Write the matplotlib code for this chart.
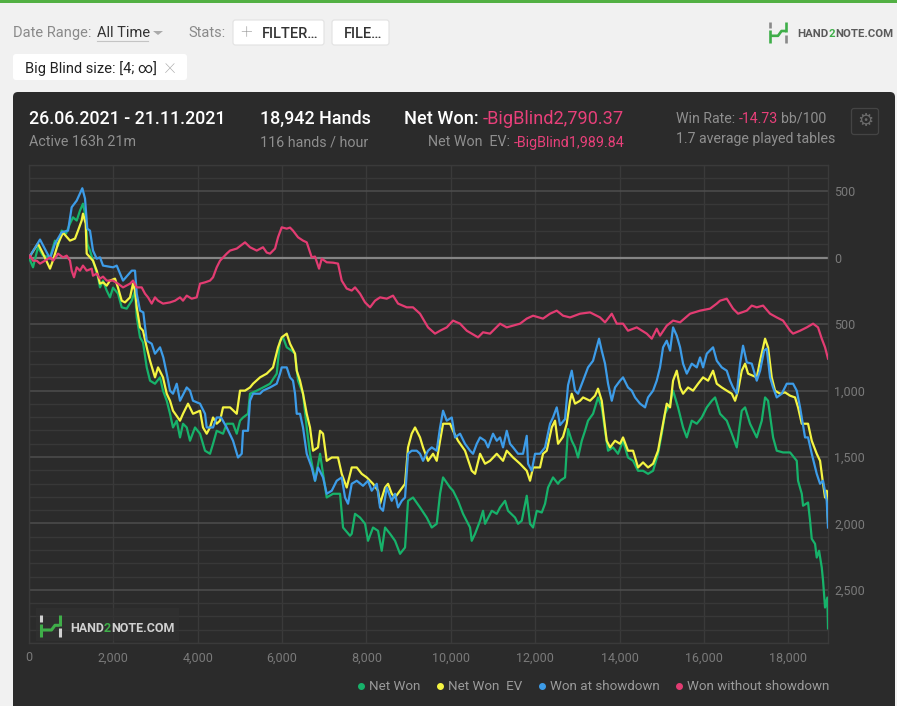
import matplotlib
matplotlib.use("Agg")
import matplotlib.pyplot as plt
from matplotlib.patches import FancyBboxPatch, Rectangle, Polygon
from matplotlib.lines import Line2D
import matplotlib.ticker as mticker

plt.rcParams['font.family'] = ['Roboto', 'DejaVu Sans']

# ---------------- data (hands, cumulative big blinds) ----------------
series_names = ["Net Won", "Net Won  EV", "Won at showdown", "Won without showdown"]
series_colors = ["#17b26a", "#f4f442", "#3d9ce8", "#e23c72"]

net_hands = [0, 95, 213, 332, 498, 616, 688, 775, 877, 972, 1043, 1131, 1209, 1280, 1344, 1382, 1446, 1565, 1636, 1683,
             1755, 1842, 1920, 1992, 2110, 2198, 2316, 2435, 2513, 2554, 2632, 2703, 2791, 2869, 2987, 3106, 3177, 3265,
             3343, 3414, 3502, 3580, 3651, 3739, 3817, 3936, 4054, 4173, 4291, 4363, 4450, 4600, 4687, 4837, 4925, 5003,
             5074, 5192, 5240, 5399, 5548, 5714, 5873, 5951, 6022, 6110, 6229, 6307, 6378, 6496, 6584, 6662, 6781, 6900,
             6971, 7058, 7208, 7374, 7445, 7611, 7651, 7729, 7848, 7967, 8037, 8156, 8275, 8362, 8441, 8559, 8678, 8796,
             8915, 8986, 9104, 9270, 9429, 9548, 9666, 9745, 9816, 9982, 10053, 10171, 10290, 10456, 10496, 10575, 10693,
             10764, 10812, 10971, 11089, 11167, 11286, 11357, 11523, 11594, 11682, 11800, 11878, 11950, 12037, 12156,
             12234, 12305, 12423, 12542, 12590, 12708, 12779, 12867, 12945, 13016, 13104, 13182, 13253, 13372, 13490,
             13578, 13656, 13728, 13846, 13964, 14083, 14201, 14320, 14439, 14557, 14676, 14795, 14913, 15001, 15079,
             15198, 15269, 15387, 15506, 15594, 15712, 15831, 15949, 16068, 16187, 16265, 16383, 16542, 16661, 16779,
             16897, 16976, 17094, 17253, 17372, 17450, 17521, 17640, 17727, 17877, 18043, 18201, 18232, 18320, 18351,
             18469, 18517, 18557, 18635, 18675, 18730, 18794, 18825, 18872, 18926, 18942]
net_won = [0, -73, 78, 15, 2, 128, 90, 203, 180, 256, 303, 279, 354, 406, 303, 105, 53, -73, -148, -224,
           -173, -248, -299, -226, -271, -374, -384, -324, -248, -450, -600, -638, -826, -926, -949, -901, -1001, -1077,
           -1175, -1278, -1227, -1353, -1250, -1278, -1378, -1278, -1325, -1453, -1476, -1401, -1303, -1325, -1250,
           -1250, -1325, -1227, -1203, -1175, -1024, -1001, -977, -949, -873, -625, -600, -675, -700, -723, -926, -1024,
           -1278, -1476, -1679, -1476, -1627, -1805, -1777, -1777, -2031, -2093, -2078, -1928, -1956, -2003, -2131,
           -2031, -2056, -2206, -2031, -2078, -2131, -2229, -2181, -1830, -1805, -1880, -1956, -2031, -2003, -1777,
           -1654, -1730, -1754, -1830, -1928, -2031, -2131, -2078, -1980, -1905, -2003, -1905, -1928, -1880, -1830,
           -1905, -1956, -2003, -1980, -1792, -2003, -2031, -1905, -1918, -1852, -1730, -1654, -1702, -1679, -1654,
           -1290, -1378, -1428, -1504, -1378, -1303, -1227, -1175, -1052, -1127, -1303, -1453, -1428, -1476, -1378,
           -1504, -1529, -1604, -1604, -1627, -1604, -1476, -1325, -1175, -1099, -1001, -1127, -1278, -1353, -1227,
           -1250, -1203, -1127, -1077, -1052, -1175, -1227, -1325, -1428, -1152, -1127, -1250, -1353, -1227, -1052,
           -1077, -1353, -1453, -1466, -1466, -1529, -1679, -1777, -1867, -1843, -1980, -2116, -2154, -2257, -2206,
           -2332, -2432, -2633, -2558, -2790]

ev_hands = [0, 213, 332, 498, 570, 688, 806, 972, 1090, 1162, 1249, 1280, 1344, 1368, 1446, 1517, 1605, 1683, 1755,
            1842, 1920, 2039, 2110, 2198, 2276, 2395, 2466, 2513, 2554, 2632, 2703, 2791, 2869, 2987, 3059, 3177, 3265,
            3343, 3414, 3580, 3651, 3770, 3888, 4054, 4125, 4213, 4291, 4363, 4450, 4529, 4600, 4766, 4925, 5003, 5121,
            5240, 5311, 5477, 5636, 5785, 5904, 5991, 6110, 6188, 6307, 6347, 6425, 6496, 6584, 6662, 6734, 6852, 6900,
            6971, 7058, 7177, 7326, 7414, 7532, 7651, 7770, 7888, 8007, 8156, 8275, 8322, 8441, 8512, 8599, 8678, 8796,
            8915, 8986, 9073, 9152, 9270, 9341, 9460, 9579, 9666, 9745, 9816, 9982, 10053, 10171, 10337, 10496, 10575,
            10693, 10812, 10930, 11089, 11238, 11326, 11476, 11641, 11800, 11878, 11950, 12115, 12186, 12274, 12393,
            12471, 12542, 12661, 12748, 12827, 12867, 12945, 13064, 13135, 13301, 13419, 13490, 13578, 13656, 13696,
            13775, 13893, 14012, 14083, 14201, 14320, 14439, 14557, 14676, 14795, 14913, 15001, 15119, 15198, 15269,
            15356, 15435, 15506, 15624, 15743, 15862, 15980, 16099, 16217, 16305, 16423, 16542, 16661, 16739, 16810,
            16897, 16976, 17047, 17253, 17332, 17450, 17521, 17608, 17687, 17806, 17924, 18043, 18161, 18232, 18320,
            18469, 18557, 18675, 18754, 18825, 18872, 18912, 18942]
net_won_ev = [0, 105, 30, -83, -20, 105, 188, 128, 143, 203, 279, 331, 256, 30, 2, -23, -98, -196, -186,
              -211, -173, -158, -226, -324, -337, -299, -196, -248, -374, -525, -550, -675, -776, -901, -826, -901, -1024,
              -1077, -1152, -1227, -1175, -1099, -1175, -1152, -1278, -1325, -1278, -1203, -1250, -1227, -1127, -1127,
              -1175, -1001, -1001, -977, -949, -901, -873, -826, -675, -600, -572, -648, -723, -851, -926, -1024, -1175,
              -1278, -1453, -1428, -1303, -1325, -1529, -1504, -1504, -1627, -1730, -1579, -1579, -1627, -1654, -1702,
              -1754, -1852, -1730, -1702, -1777, -1805, -1754, -1702, -1428, -1325, -1278, -1353, -1428, -1529, -1476,
              -1529, -1378, -1250, -1250, -1303, -1378, -1453, -1604, -1627, -1476, -1551, -1529, -1476, -1529, -1453,
              -1504, -1551, -1604, -1679, -1579, -1579, -1476, -1453, -1278, -1227, -1401, -1348, -1250, -1077, -1024,
              -1099, -1077, -1052, -1077, -1039, -986, -1077, -1278, -1378, -1428, -1378, -1401, -1353, -1453, -1453,
              -1579, -1541, -1579, -1551, -1453, -1303, -1099, -1127, -926, -851, -977, -1024, -977, -1001, -949, -901,
              -926, -851, -949, -977, -1001, -1024, -1077, -1001, -851, -798, -873, -901, -776, -610, -675, -901, -1001,
              -1024, -1014, -1039, -1052, -1127, -1250, -1250, -1378, -1476, -1529, -1702, -1805, -1754, -1990]

sd_hands = [0, 261, 498, 616, 775, 925, 1012, 1131, 1264, 1328, 1382, 1446, 1517, 1605, 1683, 1755, 1992, 2079, 2229,
            2435, 2513, 2554, 2632, 2710, 2791, 2909, 2987, 3106, 3184, 3265, 3343, 3414, 3502, 3580, 3739, 3817, 3888,
            4054, 4173, 4213, 4363, 4450, 4553, 4687, 4837, 4955, 5043, 5074, 5192, 5240, 5311, 5477, 5548, 5714, 5873,
            5951, 5991, 6110, 6188, 6259, 6307, 6347, 6425, 6496, 6584, 6703, 6781, 6852, 6971, 7058, 7177, 7295, 7414,
            7492, 7563, 7651, 7770, 7919, 8037, 8125, 8244, 8322, 8393, 8481, 8599, 8678, 8749, 8837, 8915, 8986, 9073,
            9192, 9270, 9341, 9460, 9548, 9666, 9745, 9816, 9903, 10022, 10100, 10219, 10337, 10456, 10527, 10615, 10693,
            10812, 10883, 11001, 11089, 11167, 11238, 11326, 11404, 11476, 11594, 11712, 11800, 11831, 11918, 11997,
            12115, 12234, 12352, 12423, 12511, 12590, 12708, 12779, 12867, 12945, 13016, 13135, 13253, 13372, 13460,
            13514, 13578, 13656, 13728, 13816, 13893, 14012, 14083, 14201, 14289, 14368, 14486, 14605, 14676, 14795,
            14882, 14960, 15032, 15119, 15198, 15269, 15356, 15435, 15506, 15594, 15712, 15831, 15909, 15980, 16068,
            16217, 16305, 16423, 16542, 16620, 16691, 16779, 16857, 16928, 17016, 17134, 17253, 17332, 17426, 17490,
            17568, 17640, 17727, 17846, 17964, 18114, 18201, 18280, 18398, 18469, 18557, 18675, 18754, 18825, 18912,
            18942]
won_showdown = [0, 136, -8, 105, 191, 203, 379, 429, 522, 444, 218, 203, 53, -8, 2, -60, -73, -60, -173,
                -98, -98, -271, -399, -412, -625, -648, -723, -675, -751, -873, -1001, -1024, -949, -1077, -977, -1001,
                -1077, -1099, -1175, -1278, -1278, -1203, -1203, -1278, -1378, -1504, -1476, -1303, -1303, -1077, -1024,
                -1024, -1001, -977, -949, -873, -826, -826, -901, -926, -1024, -1175, -1175, -1278, -1476, -1579, -1679,
                -1579, -1654, -1777, -1754, -1679, -1654, -1805, -1852, -1702, -1679, -1717, -1679, -1754, -1702, -1880,
                -1905, -1730, -1830, -1777, -1880, -1830, -1805, -1476, -1453, -1453, -1476, -1529, -1453, -1428, -1453,
                -1278, -1152, -1227, -1203, -1353, -1325, -1401, -1453, -1476, -1401, -1353, -1378, -1428, -1325, -1378,
                -1353, -1428, -1303, -1401, -1428, -1476, -1476, -1341, -1551, -1604, -1476, -1476, -1428, -1250, -1203,
                -1127, -1260, -1215, -960, -851, -1001, -1024, -926, -826, -776, -675, -610, -700, -798, -949, -1077,
                -977, -926, -901, -977, -1001, -1052, -1099, -1127, -1052, -1001, -926, -826, -675, -625, -700, -525,
                -587, -675, -798, -873, -798, -826, -751, -826, -723, -675, -776, -826, -851, -926, -977, -1024, -798,
                -663, -788, -798, -926, -851, -700, -685, -901, -977, -1052, -1024, -949, -949, -1001, -1127, -1353,
                -1353, -1476, -1627, -1702, -1679, -1830, -2031]

nsd_hands = [0, 24, 95, 183, 261, 379, 498, 576, 688, 806, 893, 972, 1012, 1067, 1131, 1209, 1280, 1368, 1486, 1517,
             1605, 1683, 1755, 1842, 1992, 2110, 2229, 2395, 2466, 2554, 2672, 2750, 2821, 2909, 2987, 3059, 3177, 3343,
             3462, 3580, 3651, 3739, 3857, 3976, 4054, 4173, 4291, 4363, 4450, 4529, 4687, 4766, 4925, 5121, 5240, 5399,
             5548, 5636, 5714, 5833, 5904, 5991, 6110, 6188, 6259, 6378, 6496, 6584, 6703, 6781, 6876, 6940, 7058, 7208,
             7326, 7414, 7532, 7651, 7729, 7848, 7967, 8085, 8204, 8322, 8481, 8630, 8749, 8955, 9104, 9270, 9460, 9626,
             9745, 9903, 10053, 10219, 10378, 10496, 10646, 10764, 10930, 11167, 11326, 11476, 11641, 11800, 11950,
             12186, 12352, 12511, 12661, 12827, 13064, 13301, 13538, 13656, 13816, 13934, 14083, 14201, 14408, 14645,
             14764, 14882, 14960, 15119, 15269, 15435, 15672, 15909, 16146, 16305, 16383, 16542, 16691, 16810, 17016,
             17134, 17253, 17403, 17568, 17727, 17877, 18043, 18114, 18280, 18438, 18588, 18706, 18794, 18872, 18942]
won_no_showdown = [0, 15, -23, -23, -45, -23, 2, -23, 30, 2, 15, -23, -98, -148, -73, -98, -60, -98, -83, -136,
                   -120, -158, -143, -173, -173, -196, -224, -196, -173, -224, -224, -271, -299, -346, -299, -324, -346,
                   -337, -324, -299, -324, -286, -309, -299, -196, -186, -173, -148, -73, -23, 30, 53, 68, 115, 78, 53,
                   78, 38, 30, 68, 153, 228, 218, 226, 203, 153, 128, 115, 2, 8, -83, -8, -35, -38, -45, -173, -233,
                   -248, -224, -271, -337, -374, -324, -299, -309, -286, -346, -374, -374, -422, -525, -572, -550, -525,
                   -474, -497, -550, -572, -600, -562, -572, -497, -525, -512, -497, -459, -437, -459, -422, -399, -437,
                   -450, -422, -412, -450, -487, -422, -497, -497, -550, -525, -572, -610, -535, -587, -512, -474, -487,
                   -422, -399, -384, -346, -324, -309, -384, -422, -399, -361, -374, -361, -422, -450, -474, -550, -572,
                   -550, -525, -497, -525, -610, -675, -760]

x_ticks = list(range(0, 18001, 2000))
y_ticks = list(range(-2500, 501, 500))

# ---------------- figure ----------------
W, H = 897, 706
fig = plt.figure(figsize=(W / 100, H / 100), dpi=100)
fig.patch.set_facecolor('#f1f1f1')

bg = fig.add_axes([0, 0, 1, 1])
bg.set_xlim(0, W); bg.set_ylim(H, 0); bg.axis('off'); bg.set_zorder(0)

top = fig.add_axes([0, 0, 1, 1])
top.set_xlim(0, W); top.set_ylim(H, 0); top.axis('off'); top.set_zorder(5)
top.patch.set_alpha(0)

renderer = fig.canvas.get_renderer()


def seq(ax, x, y, parts, gap=0, **kw):
    for s, c, extra in parts:
        t = ax.text(x, y, s, color=c, va='baseline', ha='left', **kw, **extra)
        bb = t.get_window_extent(renderer=renderer)
        x += bb.width + gap
    return x


def seq_right(ax, xr, y, parts, gap=0, **kw):
    widths = []
    for s, c, extra in parts:
        t = ax.text(0, 0, s, **kw, **extra)
        widths.append(t.get_window_extent(renderer=renderer).width)
        t.remove()
    x0 = xr - sum(widths) - gap * (len(parts) - 1)
    seq(ax, x0, y, parts, gap=gap, **kw)


# green strip
bg.add_patch(Rectangle((0, 0), W, 3, color='#52b043', lw=0))

# top controls
bg.text(13, 37, "Date Range:", color='#8a8a8a', fontsize=10.5, va='baseline')
bg.text(97, 37, "All Time", color='#333333', fontsize=10.5, va='baseline')
bg.add_line(Line2D([97, 148], [40.5, 40.5], color='#c4c4c4', lw=0.8))
bg.add_patch(Polygon([[153, 31], [163, 31], [158, 35]], closed=True, color='#aaaaaa', lw=0))
bg.text(188, 37, "Stats:", color='#8a8a8a', fontsize=10.5, va='baseline')

for (bx, bw) in [(233, 91), (332, 57)]:
    bg.add_patch(FancyBboxPatch((bx, 20), bw, 25, boxstyle="round,pad=0,rounding_size=2.5",
                                fc='white', ec='#e2e2e2', lw=0.8))
bg.text(246, 32.5, "+", color='#8a8a8a', fontsize=15, ha='center', va='center', fontweight='light')
bg.text(262, 37.5, "FILTER…", color='#333333', fontsize=10.5, va='baseline', fontweight='medium')
bg.text(344, 37.5, "FILE…", color='#333333', fontsize=10.5, va='baseline', fontweight='medium')

bg.add_patch(FancyBboxPatch((13, 54), 174, 26, boxstyle="round,pad=0,rounding_size=3",
                            fc='white', ec='none', lw=0))
bg.text(25, 72.5, "Big Blind size: [4; ∞]", color='#222222', fontsize=10.5, va='baseline')
bg.text(170, 66.5, "×", color='#aaaaaa', fontsize=17, ha='center', va='center', fontweight='light')

# top-right logo
lg = '#3fae49'
gr = '#8a8a8a'
for xs, ys, c in [([770, 770], [22, 28], gr), ([770, 770], [30, 43], lg),
                  ([770, 778, 781.5, 786], [35.8, 35.8, 31, 31], lg),
                  ([786, 786], [22, 31.5], lg), ([786, 786], [34.5, 43], gr)]:
    bg.add_line(Line2D(xs, ys, color=c, lw=1.9, solid_capstyle='butt'))
seq(bg, 797, 36.7, [("HAND", '#5a5a5a', {}), ("2", lg, {}), ("NOTE.COM", '#5a5a5a', {})],
    fontsize=8.2, fontweight='bold')

# dark panel
bg.add_patch(FancyBboxPatch((13, 92), 882, 640, boxstyle="round,pad=0,rounding_size=5",
                            fc='#2b2b2b', ec='none'))

pink = '#e8407a'
grey_txt = '#8f8f8f'
big = 12.9
small = 10.3
bg.text(29, 124, "26.06.2021 - 21.11.2021", color='white', fontsize=big, va='baseline', fontweight='medium')
bg.text(29, 146.5, "Active 163h 21m", color=grey_txt, fontsize=small, va='baseline')
bg.text(260, 124, "18,942 Hands", color='white', fontsize=big, va='baseline', fontweight='medium')
bg.text(260, 146.5, "116 hands / hour", color=grey_txt, fontsize=small, va='baseline')
seq_right(bg, 624, 124, [("Net Won:", 'white', {'fontweight': 'medium'}),
                         ("-BigBlind2,790.37", pink, {})], gap=4, fontsize=13.1)
seq_right(bg, 624, 146.5, [("Net Won  EV:", grey_txt, {}), ("-BigBlind1,989.84", pink, {})],
          gap=3, fontsize=small)
seq(bg, 676, 122.7, [("Win Rate:", grey_txt, {}), ("-14.73", pink, {}), ("bb/100", grey_txt, {})],
    gap=3.5, fontsize=10.2)
bg.text(676, 142.7, "1.7 average played tables", color=grey_txt, fontsize=10.2, va='baseline')

# gear button
bg.add_patch(FancyBboxPatch((851.5, 108.5), 27, 26, boxstyle="round,pad=0,rounding_size=2.5",
                            fc='none', ec='#444444', lw=0.9))
bg.text(865, 121.5, "⚙", color='#6a6a6a', fontsize=13, ha='center', va='center', family='DejaVu Sans')

# ---------------- chart ----------------
x0, x1, y0, y1 = 29, 828, 164.6, 643
ax = fig.add_axes([x0 / W, 1 - y1 / H, (x1 - x0) / W, (y1 - y0) / H])
ax.set_zorder(2)
ax.patch.set_alpha(0)
ax.set_xlim(0, 18942)
ax.set_ylim(-2900, 700)

ax.set_xticks(x_ticks)
ax.xaxis.set_major_formatter(mticker.FuncFormatter(lambda v, p: f"{v:,.0f}"))
ax.set_yticks(y_ticks)
ax.set_yticks(list(range(-2900, 701, 100)), minor=True)
ax.yaxis.set_major_formatter(mticker.FuncFormatter(lambda v, p: f"{abs(v):,.0f}"))
ax.yaxis.tick_right()
ax.tick_params(axis='both', which='both', length=0, labelcolor='#7a7a7a', labelsize=9)
ax.tick_params(axis='y', pad=4.5)
ax.tick_params(axis='x', pad=6)

ax.grid(axis='y', which='minor', color='#383838', lw=1)
ax.grid(axis='y', which='major', color='#4e4e4e', lw=1.1)
ax.grid(axis='x', which='major', color='#3a3a3a', lw=1)
ax.axhline(0, color='#858585', lw=1.6, zorder=1.5)
ax.set_axisbelow(True)
for s in ax.spines.values():
    s.set_color('#3a3a3a')
    s.set_linewidth(1)

data = [(net_hands, net_won), (ev_hands, net_won_ev), (sd_hands, won_showdown), (nsd_hands, won_no_showdown)]
for i, ((hx, hy), c) in enumerate(zip(data, series_colors)):
    ax.plot(hx, hy, color=c, lw=1.6, solid_joinstyle='round', zorder=3 + i)

# watermark
top.add_patch(Rectangle((36, 608), 143, 33, fc='#323232', ec='none', alpha=0.6))
wg = '#d0d0d0'
for xs, ys, c in [([40.5, 40.5], [615, 622], wg), ([40.5, 40.5], [623.5, 637], lg),
                  ([40.5, 51.5, 55, 59.5], [630, 630, 625.3, 625.3], lg),
                  ([59.5, 59.5], [615, 626], lg), ([59.5, 59.5], [628, 637], wg)]:
    top.add_line(Line2D(xs, ys, color=c, lw=2.2, solid_capstyle='butt'))
seq(top, 70, 632, [("HAND", wg, {}), ("2", lg, {}), ("NOTE.COM", wg, {})], fontsize=9.0, fontweight='bold')

# legend
handles = [Line2D([], [], marker='o', ls='', markersize=4, color=c) for c in series_colors]
fig.legend(handles, series_names, loc='center right', bbox_to_anchor=(829 / W, 1 - 687 / H), ncol=4,
           frameon=False, fontsize=9.6, labelcolor='#9a9a9a', handlelength=0.5, handletextpad=0.35,
           columnspacing=1.2, borderpad=0, borderaxespad=0)

fig.savefig("out.png", dpi=100, facecolor=fig.get_facecolor())
